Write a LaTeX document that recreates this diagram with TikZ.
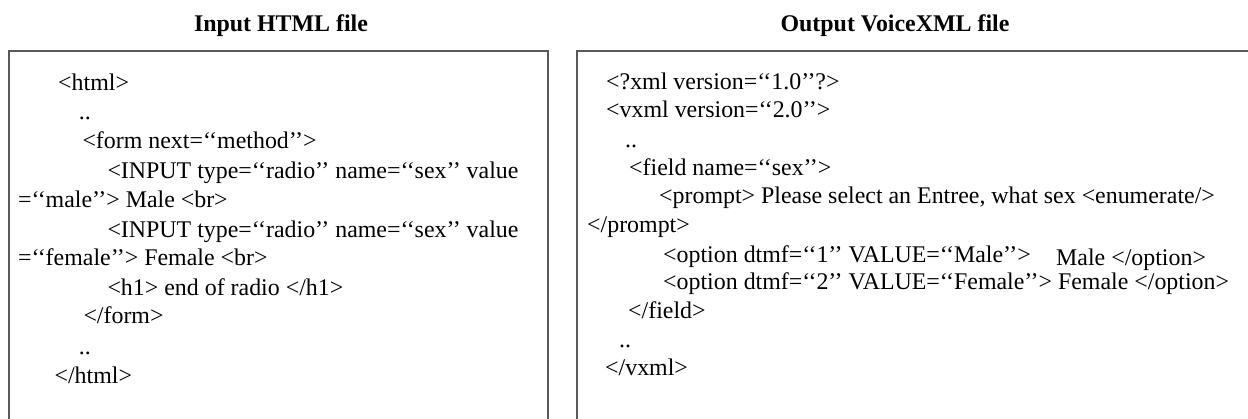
\documentclass[tikz,border=0pt]{standalone}
\usepackage{fontspec}
\setmainfont{Liberation Serif}
\tikzset{
  panel/.style={draw=black!65, line width=1.4pt, fill=none},
  title/.style={font=\fontsize{23.9}{28}\selectfont\bfseries, anchor=base, inner sep=0pt},
  code/.style={font=\fontsize{23.9}{28}\selectfont, anchor=base west, inner sep=0pt},
}
\begin{document}
\begin{tikzpicture}[x=1pt, y=-1pt]
  \useasboundingbox (0,0) rectangle (1248,418);
  \clip (0,0) rectangle (1248,418);

  % panel frames (bottom of both and right side of the second run off the page)
  \draw[panel] (9,430) -- (9,51) -- (548,51) -- (548,430);
  \draw[panel] (577,430) -- (577,51) -- (1260,51);

  % headings
  \node[title] (inTitle)  at (281,31) {Input HTML file};
  \node[title] (outTitle) at (895,31) {Output VoiceXML file};

  % HTML source
  \node[code] (h1)  at (58,90)    {<html>};
  \node[code] (h2)  at (78.7,119) {..};
  \node[code] (h3)  at (82.3,148) {<form next=‘‘method’’>};
  \node[code] (h4)  at (107.3,178){<INPUT type=‘‘radio’’ name=‘‘sex’’ value};
  \node[code] (h5)  at (17.9,207) {=‘‘male’’> Male <br>};
  \node[code] (h6)  at (107.3,237){<INPUT type=‘‘radio’’ name=‘‘sex’’ value};
  \node[code] (h7)  at (17.9,265) {=‘‘female’’> Female <br>};
  \node[code] (h8)  at (107.3,295){<h1> end of radio </h1>};
  \node[code] (h9)  at (83.3,323) {</form>};
  \node[code] (h10) at (78.7,354) {..};
  \node[code] (h11) at (54.4,383) {</html>};

  % VoiceXML result
  \node[code] (v1)  at (606,89)  {<?xml version=‘‘1.0’’?>};
  \node[code] (v2)  at (606,117) {<vxml version=‘‘2.0’’>};
  \node[code] (v3)  at (625,147) {..};
  \node[code] (v4)  at (629,175) {<field name=‘‘sex’’>};
  \node[code] (v5)  at (659,203) {<prompt> Please select an Entree, what sex <enumerate/>};
  \node[code] (v6)  at (587,232) {</prompt>};
  \node[code] (v7)  at (663,262) {<option dtmf=‘‘1’’ VALUE=‘‘Male’’>};
  \node[code] (v7b) at (1056,265){Male </option>};
  \node[code] (v8)  at (663,289) {<option dtmf=‘‘2’’ VALUE=‘‘Female’’> Female </option>};
  \node[code] (v9)  at (628,318) {</field>};
  \node[code] (v10) at (619,347) {..};
  \node[code] (v11) at (605,375) {</vxml>};
\end{tikzpicture}
\end{document}
